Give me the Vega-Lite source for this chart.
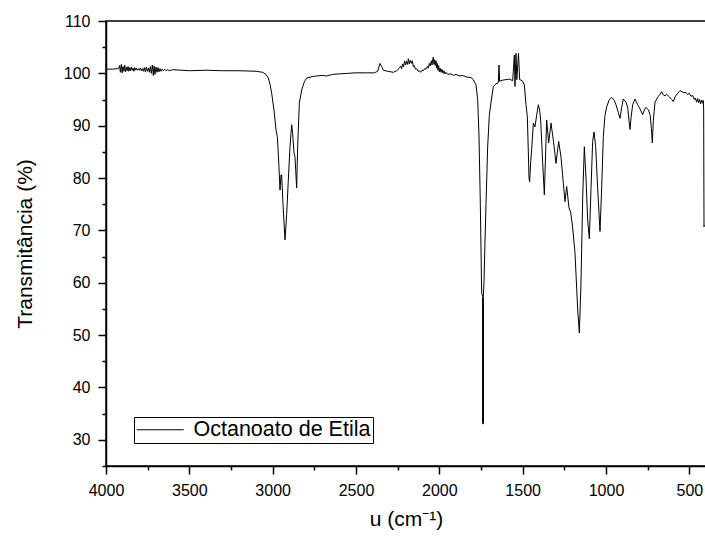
{
  "$schema": "https://vega.github.io/schema/vega-lite/v6.json",
  "width": 600,
  "height": 445,
  "autosize": {"type": "none"},
  "padding": {"left": 106, "top": 21, "right": 0, "bottom": 72},
  "background": "white",
  "config": {
    "font": "Liberation Sans",
    "view": {"stroke": "black", "strokeWidth": 1.5},
    "axis": {
      "grid": false,
      "domainColor": "black",
      "tickColor": "black",
      "labelColor": "black",
      "titleColor": "black",
      "domainWidth": 1.5,
      "tickWidth": 1.5,
      "labelFontSize": 16,
      "titleFontSize": 21,
      "titleFontWeight": "normal",
      "labelFlush": false
    }
  },
  "data": {
    "values": [
      {"wn": 4000, "t": 100.8}, {"wn": 3960, "t": 100.8}, {"wn": 3930, "t": 100.9}, {"wn": 3925, "t": 100.9},
      {"wn": 3918, "t": 101.5}, {"wn": 3914, "t": 100.2}, {"wn": 3908, "t": 101.7}, {"wn": 3903, "t": 100.1},
      {"wn": 3898, "t": 101.3}, {"wn": 3893, "t": 100.4}, {"wn": 3888, "t": 101.6}, {"wn": 3883, "t": 100.3},
      {"wn": 3878, "t": 101.2}, {"wn": 3873, "t": 100.5}, {"wn": 3868, "t": 101.3}, {"wn": 3863, "t": 100.4},
      {"wn": 3858, "t": 101.1}, {"wn": 3853, "t": 100.5}, {"wn": 3848, "t": 101.2}, {"wn": 3843, "t": 100.6},
      {"wn": 3838, "t": 101.0}, {"wn": 3833, "t": 100.4}, {"wn": 3828, "t": 101.1}, {"wn": 3823, "t": 100.6},
      {"wn": 3818, "t": 101.0}, {"wn": 3812, "t": 100.6}, {"wn": 3806, "t": 100.9}, {"wn": 3800, "t": 100.6},
      {"wn": 3794, "t": 101.0}, {"wn": 3788, "t": 100.5}, {"wn": 3782, "t": 100.9}, {"wn": 3776, "t": 100.4},
      {"wn": 3770, "t": 101.1}, {"wn": 3764, "t": 100.3}, {"wn": 3758, "t": 101.2}, {"wn": 3752, "t": 100.4},
      {"wn": 3746, "t": 101.0}, {"wn": 3740, "t": 100.2}, {"wn": 3734, "t": 101.3}, {"wn": 3728, "t": 100.0},
      {"wn": 3722, "t": 101.6}, {"wn": 3716, "t": 99.6}, {"wn": 3712, "t": 101.4}, {"wn": 3706, "t": 99.8},
      {"wn": 3700, "t": 101.2}, {"wn": 3694, "t": 100.2}, {"wn": 3688, "t": 101.1}, {"wn": 3682, "t": 100.3},
      {"wn": 3676, "t": 100.9}, {"wn": 3670, "t": 100.4}, {"wn": 3664, "t": 100.8}, {"wn": 3656, "t": 100.5},
      {"wn": 3648, "t": 100.8}, {"wn": 3640, "t": 100.5}, {"wn": 3630, "t": 100.7}, {"wn": 3620, "t": 100.5},
      {"wn": 3600, "t": 100.7}, {"wn": 3550, "t": 100.6}, {"wn": 3500, "t": 100.5},
      {"wn": 3400, "t": 100.6}, {"wn": 3300, "t": 100.5}, {"wn": 3200, "t": 100.5}, {"wn": 3100, "t": 100.4},
      {"wn": 3060, "t": 100.2}, {"wn": 3040, "t": 99.8}, {"wn": 3026, "t": 99.1}, {"wn": 3015, "t": 97.8},
      {"wn": 3006, "t": 96.2}, {"wn": 2992, "t": 93.0}, {"wn": 2980, "t": 89.2}, {"wn": 2972, "t": 87.9},
      {"wn": 2965, "t": 84.0}, {"wn": 2956, "t": 77.7}, {"wn": 2950, "t": 80.6}, {"wn": 2946, "t": 80.6},
      {"wn": 2938, "t": 75.0}, {"wn": 2926, "t": 68.2}, {"wn": 2916, "t": 73.0}, {"wn": 2906, "t": 79.7},
      {"wn": 2896, "t": 86.0}, {"wn": 2886, "t": 90.2}, {"wn": 2880, "t": 88.5}, {"wn": 2872, "t": 84.8},
      {"wn": 2866, "t": 84.0}, {"wn": 2856, "t": 78.1}, {"wn": 2850, "t": 86.0}, {"wn": 2840, "t": 94.3},
      {"wn": 2826, "t": 96.8}, {"wn": 2810, "t": 98.4}, {"wn": 2796, "t": 99.1}, {"wn": 2760, "t": 99.4},
      {"wn": 2736, "t": 99.5}, {"wn": 2700, "t": 99.6}, {"wn": 2676, "t": 99.5}, {"wn": 2640, "t": 99.8},
      {"wn": 2600, "t": 99.9}, {"wn": 2550, "t": 100.0}, {"wn": 2500, "t": 100.1}, {"wn": 2436, "t": 100.1},
      {"wn": 2390, "t": 100.1}, {"wn": 2370, "t": 100.4}, {"wn": 2356, "t": 101.9}, {"wn": 2346, "t": 101.3},
      {"wn": 2336, "t": 100.6}, {"wn": 2310, "t": 100.4}, {"wn": 2276, "t": 100.2}, {"wn": 2256, "t": 100.5},
      {"wn": 2240, "t": 101.0}, {"wn": 2232, "t": 101.4}, {"wn": 2226, "t": 100.9}, {"wn": 2220, "t": 101.8},
      {"wn": 2214, "t": 101.3}, {"wn": 2208, "t": 102.4}, {"wn": 2202, "t": 101.6}, {"wn": 2196, "t": 102.3},
      {"wn": 2190, "t": 101.7}, {"wn": 2186, "t": 102.8}, {"wn": 2180, "t": 101.8}, {"wn": 2174, "t": 102.5},
      {"wn": 2168, "t": 101.9}, {"wn": 2162, "t": 102.4}, {"wn": 2156, "t": 101.3}, {"wn": 2150, "t": 101.5},
      {"wn": 2144, "t": 100.8}, {"wn": 2136, "t": 100.9}, {"wn": 2128, "t": 100.4}, {"wn": 2120, "t": 100.5},
      {"wn": 2112, "t": 100.2}, {"wn": 2104, "t": 100.6}, {"wn": 2096, "t": 100.5}, {"wn": 2088, "t": 100.9},
      {"wn": 2080, "t": 100.8}, {"wn": 2072, "t": 101.3}, {"wn": 2066, "t": 101.0}, {"wn": 2060, "t": 101.9},
      {"wn": 2054, "t": 101.4}, {"wn": 2048, "t": 102.4}, {"wn": 2044, "t": 101.6}, {"wn": 2040, "t": 102.6},
      {"wn": 2036, "t": 103.1}, {"wn": 2032, "t": 101.7}, {"wn": 2028, "t": 102.6}, {"wn": 2024, "t": 101.5},
      {"wn": 2020, "t": 102.4}, {"wn": 2016, "t": 101.0}, {"wn": 2012, "t": 101.9}, {"wn": 2008, "t": 100.6},
      {"wn": 2004, "t": 101.5}, {"wn": 2000, "t": 100.3}, {"wn": 1996, "t": 101.0}, {"wn": 1990, "t": 100.2},
      {"wn": 1984, "t": 100.8}, {"wn": 1978, "t": 100.0}, {"wn": 1972, "t": 100.5}, {"wn": 1966, "t": 99.9},
      {"wn": 1960, "t": 100.2}, {"wn": 1950, "t": 99.8}, {"wn": 1930, "t": 99.9}, {"wn": 1916, "t": 99.6},
      {"wn": 1900, "t": 99.8}, {"wn": 1880, "t": 99.5}, {"wn": 1860, "t": 99.6}, {"wn": 1836, "t": 99.3},
      {"wn": 1810, "t": 99.2}, {"wn": 1796, "t": 98.8}, {"wn": 1780, "t": 97.8}, {"wn": 1770, "t": 95.0},
      {"wn": 1762, "t": 88.0}, {"wn": 1754, "t": 75.0}, {"wn": 1746, "t": 58.0}, {"wn": 1740, "t": 57.4},
      {"wn": 1739.5, "t": 33.5}, {"wn": 1739, "t": 56.0}, {"wn": 1738.5, "t": 33.2}, {"wn": 1738, "t": 57.0},
      {"wn": 1737.5, "t": 33.0}, {"wn": 1737, "t": 57.0}, {"wn": 1732, "t": 60.0}, {"wn": 1726, "t": 68.0},
      {"wn": 1720, "t": 75.0}, {"wn": 1710, "t": 86.0}, {"wn": 1700, "t": 92.0}, {"wn": 1690, "t": 94.5},
      {"wn": 1676, "t": 97.5}, {"wn": 1660, "t": 98.0}, {"wn": 1646, "t": 98.2}, {"wn": 1642, "t": 101.6},
      {"wn": 1638, "t": 98.5}, {"wn": 1620, "t": 98.7}, {"wn": 1600, "t": 98.8}, {"wn": 1580, "t": 98.9},
      {"wn": 1560, "t": 98.6}, {"wn": 1550, "t": 103.5}, {"wn": 1546, "t": 97.5}, {"wn": 1540, "t": 103.8},
      {"wn": 1535, "t": 98.8}, {"wn": 1525, "t": 103.8}, {"wn": 1518, "t": 98.8}, {"wn": 1510, "t": 98.7},
      {"wn": 1500, "t": 98.5}, {"wn": 1490, "t": 97.8}, {"wn": 1480, "t": 94.0}, {"wn": 1472, "t": 91.7},
      {"wn": 1466, "t": 85.0}, {"wn": 1462, "t": 80.0}, {"wn": 1458, "t": 79.3}, {"wn": 1452, "t": 83.0},
      {"wn": 1446, "t": 85.4}, {"wn": 1436, "t": 90.5}, {"wn": 1426, "t": 89.8}, {"wn": 1416, "t": 92.0},
      {"wn": 1406, "t": 94.0}, {"wn": 1398, "t": 93.0}, {"wn": 1392, "t": 91.1}, {"wn": 1380, "t": 83.0},
      {"wn": 1370, "t": 76.8}, {"wn": 1362, "t": 85.0}, {"wn": 1356, "t": 91.1}, {"wn": 1344, "t": 86.7},
      {"wn": 1330, "t": 90.5}, {"wn": 1315, "t": 87.0}, {"wn": 1300, "t": 82.8}, {"wn": 1284, "t": 87.0},
      {"wn": 1270, "t": 84.0}, {"wn": 1256, "t": 79.0}, {"wn": 1246, "t": 75.5}, {"wn": 1236, "t": 78.4},
      {"wn": 1222, "t": 74.3}, {"wn": 1212, "t": 73.5}, {"wn": 1200, "t": 70.5}, {"wn": 1186, "t": 65.7},
      {"wn": 1170, "t": 55.0}, {"wn": 1160, "t": 50.4}, {"wn": 1150, "t": 60.0}, {"wn": 1140, "t": 76.0},
      {"wn": 1130, "t": 86.0}, {"wn": 1120, "t": 80.0}, {"wn": 1110, "t": 72.0}, {"wn": 1100, "t": 68.4},
      {"wn": 1090, "t": 78.0}, {"wn": 1080, "t": 87.0}, {"wn": 1072, "t": 88.8}, {"wn": 1062, "t": 86.0},
      {"wn": 1050, "t": 78.0}, {"wn": 1036, "t": 69.8}, {"wn": 1026, "t": 78.0}, {"wn": 1016, "t": 88.0},
      {"wn": 1006, "t": 92.0}, {"wn": 996, "t": 93.6}, {"wn": 980, "t": 95.0}, {"wn": 966, "t": 95.4},
      {"wn": 950, "t": 94.8}, {"wn": 940, "t": 94.0}, {"wn": 926, "t": 92.5}, {"wn": 916, "t": 91.4},
      {"wn": 906, "t": 93.5}, {"wn": 896, "t": 95.1}, {"wn": 880, "t": 94.5}, {"wn": 870, "t": 93.5},
      {"wn": 862, "t": 91.0}, {"wn": 856, "t": 89.3}, {"wn": 850, "t": 91.5}, {"wn": 840, "t": 94.0},
      {"wn": 826, "t": 95.1}, {"wn": 810, "t": 94.0}, {"wn": 800, "t": 93.5}, {"wn": 790, "t": 92.8},
      {"wn": 780, "t": 92.1}, {"wn": 770, "t": 93.0}, {"wn": 760, "t": 93.5}, {"wn": 745, "t": 93.0},
      {"wn": 735, "t": 92.0}, {"wn": 728, "t": 89.5}, {"wn": 722, "t": 86.7}, {"wn": 716, "t": 91.0},
      {"wn": 706, "t": 94.5}, {"wn": 686, "t": 95.6}, {"wn": 676, "t": 96.0}, {"wn": 666, "t": 96.5},
      {"wn": 656, "t": 95.9}, {"wn": 646, "t": 95.7}, {"wn": 636, "t": 96.0}, {"wn": 620, "t": 95.5},
      {"wn": 606, "t": 95.0}, {"wn": 596, "t": 94.6}, {"wn": 586, "t": 95.5}, {"wn": 570, "t": 96.2},
      {"wn": 556, "t": 96.7}, {"wn": 540, "t": 96.4}, {"wn": 520, "t": 96.3}, {"wn": 510, "t": 96.0},
      {"wn": 500, "t": 96.2}, {"wn": 490, "t": 95.6}, {"wn": 480, "t": 95.8}, {"wn": 470, "t": 95.0},
      {"wn": 464, "t": 95.3}, {"wn": 456, "t": 94.5}, {"wn": 450, "t": 95.2}, {"wn": 444, "t": 94.4},
      {"wn": 438, "t": 95.0}, {"wn": 432, "t": 94.2}, {"wn": 426, "t": 94.9}, {"wn": 420, "t": 94.3},
      {"wn": 416, "t": 94.8}, {"wn": 414, "t": 93.0}, {"wn": 412, "t": 70.7}, {"wn": 410, "t": 71.0}
    ]
  },
  "mark": {"type": "line", "strokeWidth": 1, "clip": true},
  "encoding": {
    "x": {
      "field": "wn",
      "type": "quantitative",
      "scale": {"domain": [400, 4000], "reverse": true, "nice": false, "zero": false},
      "axis": {
        "title": "u (cm⁻¹)",
        "values": [500, 750, 1000, 1250, 1500, 1750, 2000, 2250, 2500, 2750, 3000, 3250, 3500, 3750, 4000],
        "format": "d",
        "labelExpr": "datum.value % 500 === 0 ? datum.label : ''",
        "tickSize": {"condition": {"test": "datum.value % 500 === 0", "value": 8}, "value": 4},
        "labelOverlap": false,
        "labelPadding": 8,
        "titlePadding": 10
      }
    },
    "y": {
      "field": "t",
      "type": "quantitative",
      "scale": {"domain": [25, 110], "nice": false, "zero": false},
      "axis": {
        "title": "Transmitância (%)",
        "values": [25, 30, 35, 40, 45, 50, 55, 60, 65, 70, 75, 80, 85, 90, 95, 100, 105, 110],
        "format": "d",
        "labelExpr": "datum.value % 10 === 0 ? datum.label : ''",
        "tickSize": {"condition": {"test": "datum.value % 10 === 0", "value": 8}, "value": 4},
        "labelOverlap": false,
        "labelPadding": 8,
        "titlePadding": 28
      }
    },
    "color": {
      "datum": "Octanoato de Etila",
      "type": "nominal",
      "scale": {"range": ["#000000"]},
      "legend": {
        "orient": "none",
        "legendX": 28,
        "legendY": 396,
        "title": null,
        "strokeColor": "black",
        "padding": 2,
        "symbolType": "M-1.67,0L6.17,0",
        "symbolSize": 144,
        "symbolStrokeColor": "black",
        "symbolStrokeWidth": 1,
        "labelFontSize": 21.5,
        "labelColor": "black",
        "labelLimit": 400,
        "labelOffset": 36
      }
    }
  }
}
